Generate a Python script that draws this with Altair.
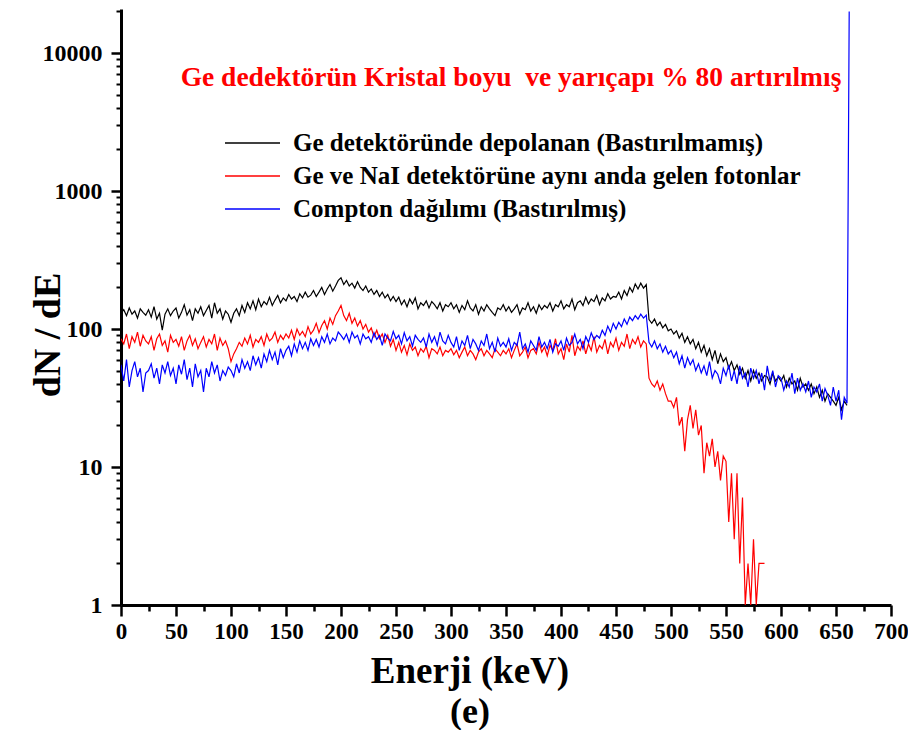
import altair as alt
import pandas as pd
import numpy as np

# ---------------- data ----------------
STEP = 2.5  # keV between listed channels, starting at 0 keV

black_counts = [
    130,138,125,142,128,135,120,140,132,126,
    138,122,145,118,130,98,128,140,125,135,
    142,120,132,150,126,138,115,140,130,145,
    125,136,148,120,155,130,140,118,135,128,
    112,130,140,125,148,132,155,140,160,138,
    165,145,158,150,170,148,162,175,155,168,
    160,178,165,172,158,180,168,185,170,176,
    190,172,185,200,178,195,210,188,205,225,
    235,210,225,205,215,198,220,200,190,205,
    185,195,178,190,172,185,168,178,160,172,
    158,170,150,162,145,165,152,168,140,155,
    148,160,142,158,150,140,155,135,150,145,
    155,140,150,132,148,138,160,142,135,150,
    128,145,135,150,140,132,125,142,138,150,
    135,145,132,140,150,128,142,138,155,135,
    145,130,150,138,148,142,155,135,150,145,
    160,140,150,145,165,138,155,160,148,170,
    152,165,158,175,150,168,160,180,165,172,
    170,185,165,190,175,200,185,212,195,215,
    198,210,117,110,118,106,112,102,108,97,
    100,92,97,86,93,80,88,78,84,72,
    80,68,76,64,72,60,70,56,66,58,
    62,52,58,50,55,47,52,44,50,42,
    50,44,48,42,46,45,40,48,42,45,
    42,46,38,44,40,42,36,44,38,40,
    36,40,34,38,32,36,30,34,32,30,
    28,32,26,30,28,
]

red_counts = [
    85,78,92,72,88,80,95,75,90,82,
    78,88,70,85,92,76,82,68,90,80,
    84,75,88,70,82,90,76,85,72,80,
    88,74,84,78,92,70,86,76,82,72,
    58,66,72,80,75,86,78,90,74,84,
    80,88,76,92,82,86,95,80,90,84,
    92,86,98,84,100,90,96,88,104,92,
    98,110,94,106,115,100,120,108,125,135,
    148,125,115,130,110,120,105,115,100,108,
    95,102,88,98,85,92,80,90,75,84,
    70,80,68,76,65,78,70,74,64,72,
    68,75,62,72,70,66,74,64,70,68,
    72,65,70,62,68,74,64,70,66,60,
    68,72,64,70,66,62,72,68,64,70,
    66,72,62,70,78,64,68,74,62,70,
    72,66,80,68,74,64,76,70,85,66,
    72,60,78,68,90,64,75,70,82,66,
    78,70,88,68,76,72,84,66,80,74,
    86,70,80,75,92,72,84,78,88,74,
    82,78,44,40,38,42,36,40,34,30,
    30,27,32,20,23,13,22,28,19,26,
    17,20,9,15,12,16,10,13,8,12,
    11,4,9,3,9,2,6,1,2,1,
    3,1,2,2,2,
]

blue_counts = [
    55,42,60,38,50,58,45,52,35,48,
    50,56,44,52,40,55,48,58,46,52,
    40,55,47,60,43,52,38,56,45,50,
    35,52,45,58,48,55,42,50,46,53,
    50,45,56,48,60,52,58,50,64,55,
    62,52,66,58,70,60,68,55,72,62,
    70,75,64,78,68,82,72,80,70,85,
    76,84,74,88,80,92,78,86,82,95,
    90,84,92,80,95,86,90,78,92,85,
    88,80,94,84,90,76,92,86,82,96,
    85,90,78,94,82,88,75,90,84,80,
    86,74,92,80,88,76,95,82,78,90,
    80,74,88,70,82,76,90,72,84,78,
    70,82,76,92,72,80,68,86,75,80,
    74,85,70,80,76,95,72,78,68,82,
    76,70,88,74,80,72,84,68,78,75,
    82,70,86,76,80,92,78,84,72,88,
    80,94,84,90,86,98,90,105,95,110,
    100,112,104,118,108,122,115,125,118,128,
    120,126,80,74,82,72,78,68,75,66,
    70,62,68,56,64,52,62,55,60,50,
    56,48,54,46,58,44,50,47,40,52,
    46,55,42,50,40,54,44,48,38,52,
    44,50,40,48,36,54,42,50,38,46,
    44,36,42,38,48,34,44,36,40,35,
    42,32,38,35,40,30,37,33,28,38,
    30,36,22,32,29,
]
blue_peak_energy = [662]
blue_peak_count = [20000]

series_names = [
    "Ge detektöründe depolanan (Bastırılmamış)",
    "Ge ve NaI detektörüne aynı anda gelen fotonlar",
    "Compton dağılımı (Bastırılmış)",
]
series_colors = ["#000000", "#ff0000", "#0000ff"]

x_major = list(range(0, 701, 50))
x_minor = list(range(25, 700, 50))
y_major = [1, 10, 100, 1000, 10000]
y_minor = [m * 10 ** k for k in range(4) for m in range(2, 10)] + [20000]

annotation = "Ge dedektörün Kristal boyu\u00a0 ve yarıçapı % 80 artırılmış"
x_title = "Enerji (keV)"
y_title = "dN / dE"
panel_label = "(e)"

# ---------------- tables ----------------
def frame(counts, extra_e=(), extra_n=()):
    e = list(np.arange(len(counts)) * STEP) + list(extra_e)
    n = list(counts) + list(extra_n)
    return pd.DataFrame({"E": e, "N": n})

df_black = frame(black_counts)
df_red = frame(red_counts)
df_blue = frame(blue_counts, blue_peak_energy, blue_peak_count)

FONT = "Liberation Serif"
xs = alt.Scale(domain=[0, 700], nice=False, zero=False)
ys = alt.Scale(type="log", domain=[1, 20840], nice=False)

x_axis_major = alt.Axis(orient="bottom", values=x_major, format="d", title=None, grid=False,
                        labelFont=FONT, labelFontWeight="bold", labelFontSize=23,
                        labelColor="black", tickSize=11, tickWidth=2.5, tickColor="black",
                        domainColor="black", domainWidth=3, labelPadding=4,
                        labelFlush=False, labelOverlap=False)
y_axis_major = alt.Axis(orient="left", values=y_major, format="d", title=None, grid=False,
                        labelFont=FONT, labelFontWeight="bold", labelFontSize=24,
                        labelColor="black", tickSize=10, tickWidth=2.5, tickColor="black",
                        domainColor="black", domainWidth=3, labelPadding=9,
                        labelFlush=False, labelOverlap=False)
x_axis_minor = alt.Axis(orient="bottom", values=x_minor, labels=False, title=None, grid=False,
                        domain=False, tickSize=6, tickWidth=2.5, tickColor="black")
y_axis_minor = alt.Axis(orient="left", values=y_minor, labels=False, title=None, grid=False,
                        domain=False, tickSize=5, tickWidth=2, tickColor="black")

def line(df, color, xa=None, ya=None):
    return alt.Chart(df).mark_line(color=color, strokeWidth=1.2, clip=True).encode(
        x=alt.X("E:Q", scale=xs, axis=xa),
        y=alt.Y("N:Q", scale=ys, axis=ya),
    )

black = line(df_black, series_colors[0], x_axis_major, y_axis_major)
minor = alt.Chart(df_black).mark_line(opacity=0).encode(
    x=alt.X("E:Q", scale=xs, axis=x_axis_minor),
    y=alt.Y("N:Q", scale=ys, axis=y_axis_minor),
)
red = line(df_red, series_colors[1])
blue = line(df_blue, series_colors[2])

one = pd.DataFrame({"k": [0]})

def txt(s, x, y, size, color="black", angle=0, baseline="middle", align="center"):
    return alt.Chart(one).mark_text(
        text=s, font=FONT, fontWeight="bold", fontSize=size, color=color,
        angle=angle, baseline=baseline, align=align,
    ).encode(x=alt.value(x), y=alt.value(y))

layers = [minor, black, red, blue]
layers.append(txt(annotation, 390, 69, 27.5, color="#ff0000"))
row_y = [134, 167, 200]
for name, col, ry in zip(series_names, series_colors, row_y):
    layers.append(alt.Chart(one).mark_rule(color=col, strokeWidth=1.3).encode(
        x=alt.value(104), x2=alt.value(159), y=alt.value(ry)))
    layers.append(txt(name, 172, ry, 25, align="left"))
layers.append(txt(y_title, -72, 326, 38, angle=270))
layers.append(txt(x_title, 349, 674, 37, baseline="alphabetic"))
layers.append(txt(panel_label, 349, 714, 36, baseline="alphabetic"))

chart = alt.layer(*layers).resolve_axis(x="independent", y="independent").properties(
    width=770, height=596,
    padding={"left": 113, "top": 1, "right": 17, "bottom": 125},
    autosize=alt.AutoSizeParams(type="none"),
    background="white",
).configure_view(stroke=None)

chart.save("out.html", embed_options={"renderer": "svg", "actions": False})
